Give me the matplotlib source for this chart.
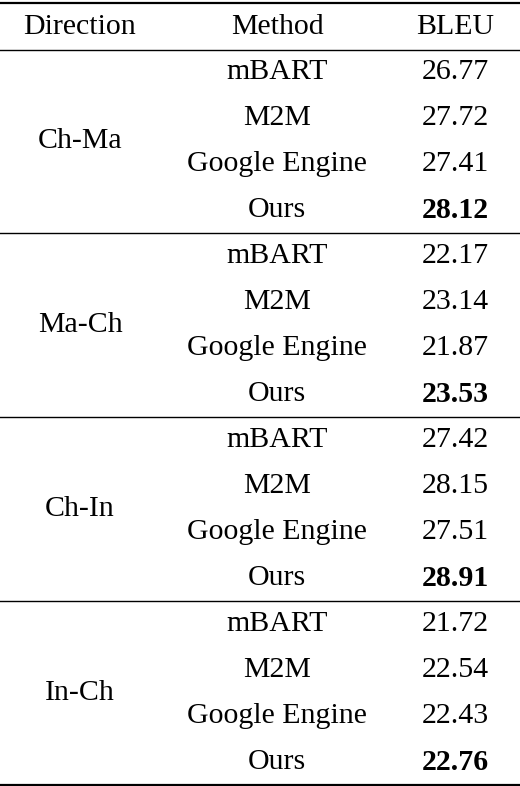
import matplotlib
matplotlib.use("Agg")
import matplotlib.pyplot as plt

directions = ["Ch-Ma", "Ma-Ch", "Ch-In", "In-Ch"]
methods = ["mBART", "M2M", "Google Engine", "Ours"]
bleu = [
    [26.77, 27.72, 27.41, 28.12],
    [22.17, 23.14, 21.87, 23.53],
    [27.42, 28.15, 27.51, 28.91],
    [21.72, 22.54, 22.43, 22.76],
]
headers = ["Direction", "Method", "BLEU"]

W, H = 520, 786
fig = plt.figure(figsize=(W / 100, H / 100), dpi=100)
ax = fig.add_axes([0, 0, 1, 1])
ax.set_xlim(0, W)
ax.set_ylim(H, 0)
ax.axis("off")

font = dict(family=["Liberation Serif", "DejaVu Serif"], fontsize=21.5,
            ha="center", va="center")
col_x = [80, 277, 455]

for x, h in zip(col_x, headers):
    ax.text(x, 27, h, **font)

ax.axhline(3, color="black", lw=1.6)
ax.axhline(50, color="black", lw=1.0)

row_h = 46
y0 = 72
group_gap = 47
y = y0
for g, d in enumerate(directions):
    ys = []
    for i, m in enumerate(methods):
        ys.append(y)
        ax.text(col_x[1], y, m, **font)
        best = bleu[g][i] == max(bleu[g])
        ax.text(col_x[2], y, f"{bleu[g][i]:.2f}",
                fontweight="bold" if best else "normal", **font)
        y += row_h
    ax.text(col_x[0], (ys[1] + ys[2]) / 2, d, **font)
    sep = ys[-1] + 23
    if g < len(directions) - 1:
        ax.axhline(sep, color="black", lw=1.0)
        y = sep + 23
    else:
        ax.axhline(sep, color="black", lw=1.6)

fig.savefig("out.png", dpi=100)
